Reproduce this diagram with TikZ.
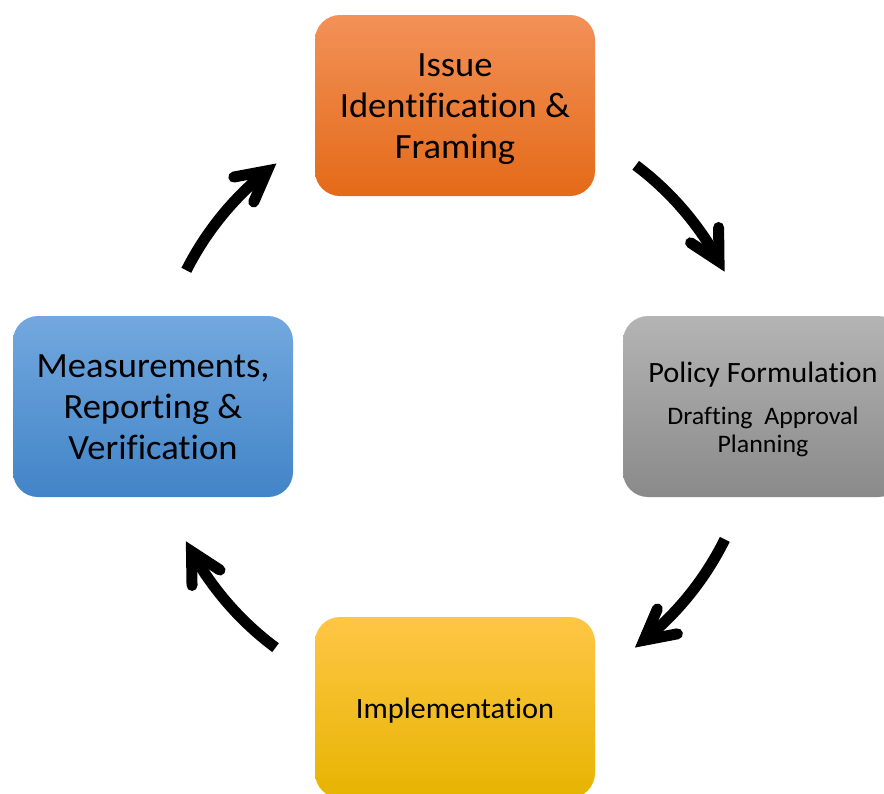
\documentclass[tikz,border=0pt]{standalone}
\usepackage{fontspec}
\setmainfont{Carlito}[FakeStretch=1.03,Ligatures=NoCommon]
\usetikzlibrary{calc}
\definecolor{orTop}{RGB}{242,145,88}
\definecolor{orBot}{RGB}{228,106,24}
\definecolor{grTop}{RGB}{180,180,180}
\definecolor{grBot}{RGB}{138,138,138}
\definecolor{blTop}{RGB}{114,168,222}
\definecolor{blBot}{RGB}{66,132,200}
\definecolor{yeTop}{RGB}{255,198,70}
\definecolor{yeMid}{RGB}{255,193,0}
\definecolor{yeBot}{RGB}{230,180,0}
\tikzset{
  stagebox/.style={rectangle, rounded corners=25pt, minimum width=280pt,
    minimum height=181pt, inner sep=0pt},
  stagetext/.style={align=center, text=black, inner sep=0pt},
  bigtext/.style={font=\fontsize{35.5}{41}\selectfont},
  cycarc/.style={line width=11pt, line cap=butt, draw=black},
  cychead/.style={line width=11pt, line cap=round, line join=miter, draw=black}
}
\begin{document}
\begin{tikzpicture}[x=1pt,y=-1pt]
\useasboundingbox (0,0) rectangle (884,793);
\clip (0,0) rectangle (884,793);
\node[stagebox, top color=orTop, bottom color=orBot] (issue) at (455,105.5) {};
\node[stagetext, bigtext] (issuet) at ($(issue.center)+(0,4)$)
  {Issue\\Identification \&\\Framing};
\node[stagebox, top color=grTop, bottom color=grBot] (policy) at (763,406.5) {};
\node[stagetext, font=\fontsize{25.2}{28}\selectfont] (policyt) at ($(policy.center)+(0,3)$)
  {{\fontsize{29.5}{30}\selectfont Policy Formulation}\\[14pt]Drafting~~Approval\\Planning};
\node[stagebox, top color=yeTop, middle color=yeMid, bottom color=yeBot] (impl) at (455,707.5) {};
\node[stagetext, font=\fontsize{29.5}{34}\selectfont] (implt) at ($(impl.center)+(0,3)$)
  {Implementation};
\node[stagebox, top color=blTop, bottom color=blBot] (mrv) at (153,406.5) {};
\node[stagetext, bigtext] (mrvt) at ($(mrv.center)+(0,0.5)$)
  {Measurements,\\Reporting \&\\Verification};
\coordinate (c) at (455,406);
\foreach \a/\b [count=\i] in {206.8/231.4, 306.9/331.3, 26.3/51.1, 126.6/151.1} {
  \coordinate (s\i) at ($(c)+(\a:301)$);
  \coordinate (p\i) at ($(c)+(\b:301)$);
  \draw[cycarc] (s\i) arc[start angle=\a, end angle=\b, radius=301];
  \draw[cychead] ($(p\i)+(\b-62:34)$) -- (p\i) -- ($(p\i)+(\b-118:34)$);
}
\end{tikzpicture}
\end{document}
